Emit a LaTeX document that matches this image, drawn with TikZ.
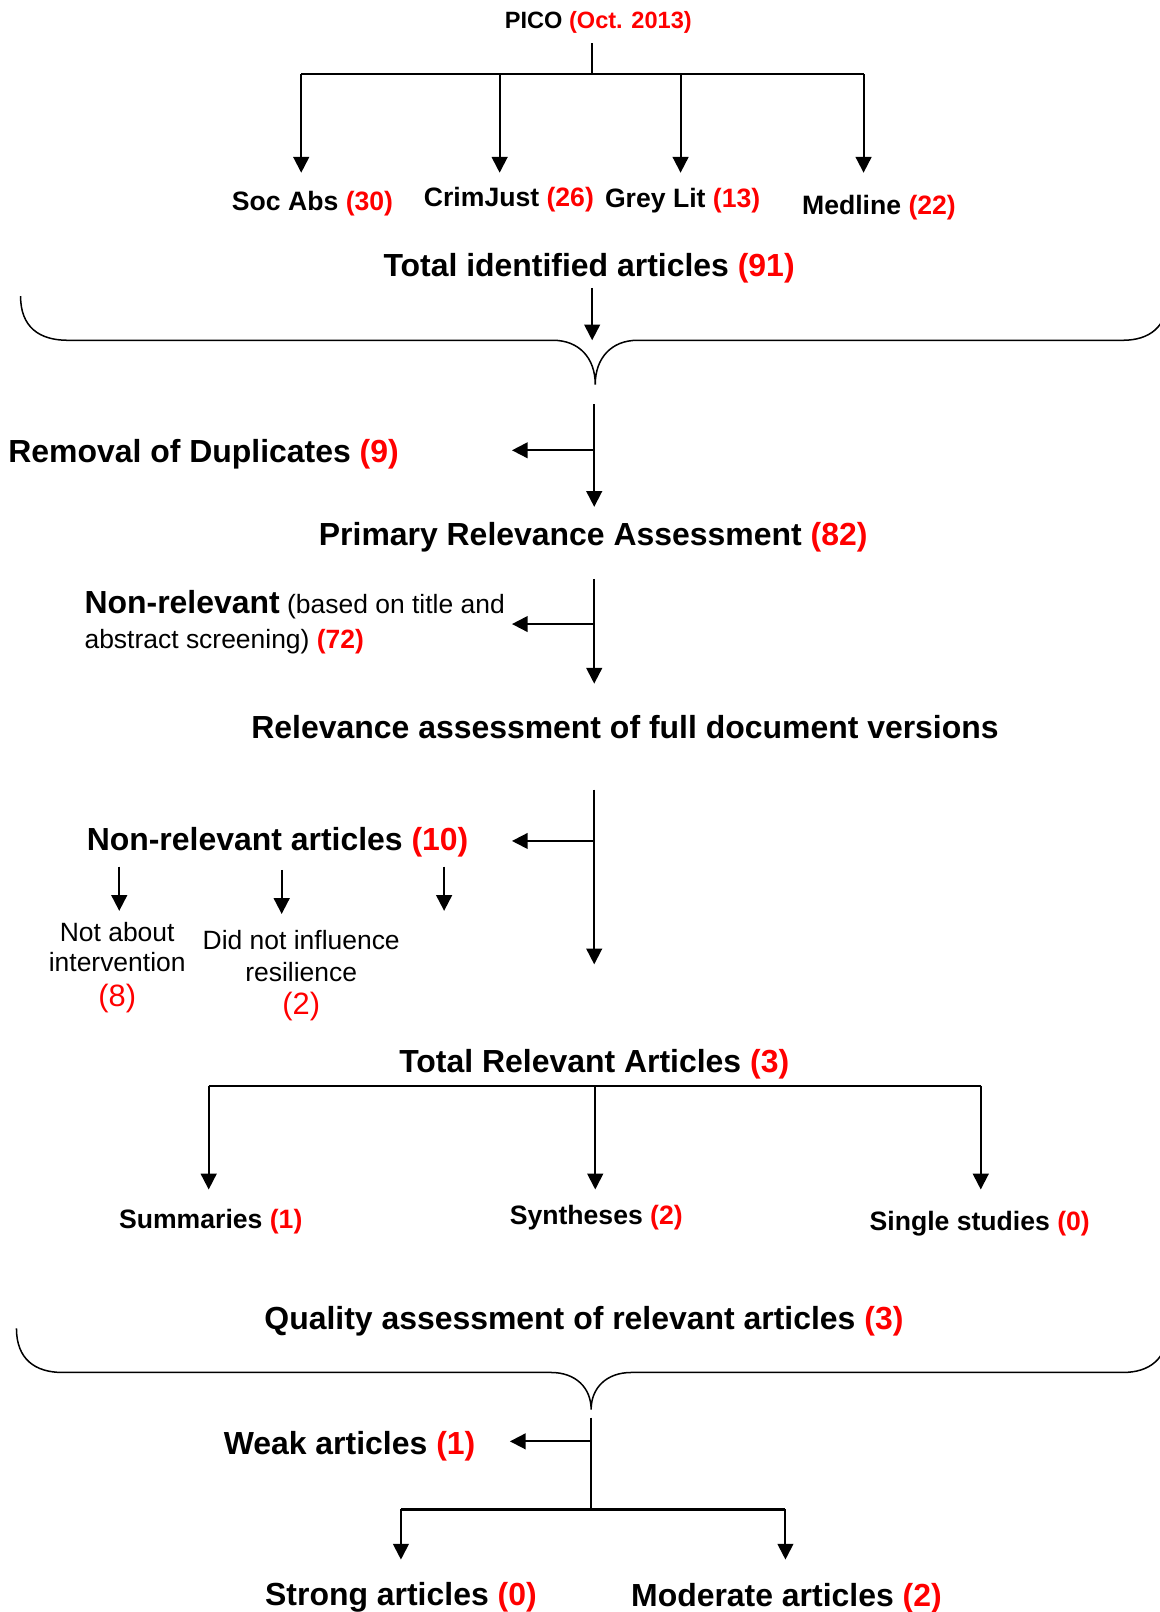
\documentclass[tikz,border=0pt]{standalone}
\usepackage{fontspec}
\setmainfont{Liberation Sans}
\usetikzlibrary{arrows.meta}
\newcommand{\redn}[1]{\textcolor{red}{#1}}
\begin{document}
\begin{tikzpicture}[x=0.75pt,y=-0.75pt,
  txt/.style={inner sep=0pt, yshift=-2.25pt},
  big/.style={txt, font=\fontsize{23.3}{28}\selectfont\bfseries},
  mid/.style={txt, font=\fontsize{19.4}{23}\selectfont\bfseries},
  picofont/.style={txt, font=\fontsize{17.2}{20}\selectfont\bfseries},
  small/.style={txt, font=\fontsize{19.3}{21.75}\selectfont, align=center},
  conn/.style={line width=1.4pt},
  arr/.style={line width=1.4pt, -{Triangle[length=11.5pt,width=11.5pt]}},
  brace/.style={line width=1.1pt},
]
\useasboundingbox (0,0) rectangle (1128,1568);

% ---- top: PICO and sources
\node[picofont] (pico) at (582,19) {PICO \redn{(Oct. 2013)}};
\coordinate (picoS) at (576,42);
\coordinate (hub1) at (576,72);
\coordinate (h1a) at (293,72);
\coordinate (h1b) at (486,72);
\coordinate (h1c) at (662,72);
\coordinate (h1d) at (840,72);
\coordinate (e1a) at (293,168);
\coordinate (e1b) at (486,168);
\coordinate (e1c) at (662,168);
\coordinate (e1d) at (840,168);
\draw[conn] (picoS) -- (hub1);
\draw[conn] (h1a) -- (h1d);
\draw[arr] (h1a) -- (e1a);
\draw[arr] (h1b) -- (e1b);
\draw[arr] (h1c) -- (e1c);
\draw[arr] (h1d) -- (e1d);

\node[mid] (socabs) at (304,195) {Soc Abs \redn{(30)}};
\node[mid] (crim) at (495,191) {CrimJust \redn{(26)}};
\node[mid] (grey) at (664,192) {Grey Lit \redn{(13)}};
\node[mid] (medline) at (855,199) {Medline \redn{(22)}};

\node[big] (total) at (573,258) {Total identified articles \redn{(91)}};
\coordinate (t1s) at (576,280);
\coordinate (t1e) at (576,331);
\draw[arr] (t1s) -- (t1e);

% brace 1
\coordinate (tip1) at (579,374);
\draw[brace] (20,288) .. controls (20,318) and (38,331) .. (66,331) -- (538,331)
  .. controls (563,331) and (579,348) .. (tip1)
  .. controls (579,348) and (595,331) .. (620,331) -- (1092,331)
  .. controls (1118,331) and (1136,318) .. (1136,288);

% ---- duplicates
\coordinate (v2s) at (578,393);
\coordinate (v2m) at (578,438);
\coordinate (v2e) at (578,493);
\coordinate (dupE) at (498,438);
\draw[arr] (v2s) -- (v2e);
\draw[arr] (v2m) -- (dupE);
\node[big] (dup) at (198,439) {Removal of Duplicates \redn{(9)}};

\node[big] (primary) at (577,520) {Primary Relevance Assessment \redn{(82)}};

\coordinate (v3s) at (578,563);
\coordinate (v3m) at (578,607);
\coordinate (v3e) at (578,665);
\coordinate (nr1E) at (498,607);
\draw[arr] (v3s) -- (v3e);
\draw[arr] (v3m) -- (nr1E);
\node[txt, anchor=west, align=left, font=\fontsize{19.3}{25.5}\selectfont] (nonrel1) at (82,602)
  {{\fontsize{23.3}{25.5}\selectfont\bfseries Non-relevant} (based on title and\\abstract screening) \textbf{\redn{(72)}}};

\node[big] (full) at (608,704) {Relevance assessment of full document versions};

\coordinate (v4s) at (578,768);
\coordinate (v4m) at (578,818);
\coordinate (v4e) at (578,938);
\coordinate (nr2E) at (498,818);
\draw[arr] (v4s) -- (v4e);
\draw[arr] (v4m) -- (nr2E);
\node[big] (nonrel2) at (270,816) {Non-relevant articles \redn{(10)}};

\coordinate (sa1) at (116,843);
\coordinate (sa1e) at (116,886);
\coordinate (sa2) at (274,846);
\coordinate (sa2e) at (274,889);
\coordinate (sa3) at (432,843);
\coordinate (sa3e) at (432,886);
\draw[arr] (sa1) -- (sa1e);
\draw[arr] (sa2) -- (sa2e);
\draw[arr] (sa3) -- (sa3e);

\node[small] (notabout) at (114,938) {Not about\\intervention\\[4pt]{\fontsize{22.5}{24}\selectfont\redn{(8)}}};
\node[small] (didnot) at (293,946) {Did not influence\\[1.5pt]resilience\\[2pt]{\fontsize{22.5}{24}\selectfont\redn{(2)}}};

% ---- total relevant
\node[big] (totrel) at (578,1032) {Total Relevant Articles \redn{(3)}};
\coordinate (h5a) at (203,1056);
\coordinate (h5b) at (579,1056);
\coordinate (h5c) at (954,1056);
\coordinate (e5a) at (203,1157);
\coordinate (e5b) at (579,1157);
\coordinate (e5c) at (954,1157);
\draw[conn] (h5a) -- (h5c);
\draw[arr] (h5a) -- (e5a);
\draw[arr] (h5b) -- (e5b);
\draw[arr] (h5c) -- (e5c);

\node[mid] (summ) at (205,1185) {Summaries \redn{(1)}};
\node[mid] (synth) at (580,1181) {Syntheses \redn{(2)}};
\node[mid] (single) at (953,1187) {Single studies \redn{(0)}};

\node[big] (quality) at (568,1282) {Quality assessment of relevant articles \redn{(3)}};

% brace 2
\coordinate (tip2) at (575,1371);
\draw[brace] (16,1292) .. controls (16,1322) and (34,1335) .. (61,1335) -- (536,1335)
  .. controls (560,1335) and (575,1350) .. (tip2)
  .. controls (575,1350) and (590,1335) .. (614,1335) -- (1092,1335)
  .. controls (1118,1335) and (1136,1322) .. (1136,1292);

\coordinate (v6s) at (575,1379);
\coordinate (v6m) at (575,1402);
\coordinate (v6e) at (575,1468);
\coordinate (weakE) at (496,1402);
\draw[conn] (v6s) -- (v6e);
\draw[arr] (v6m) -- (weakE);
\node[big] (weak) at (340,1404) {Weak articles \redn{(1)}};

\coordinate (h7a) at (390,1468);
\coordinate (h7b) at (764,1468);
\coordinate (e7a) at (390,1517);
\coordinate (e7b) at (764,1517);
\draw[line width=2pt] (h7a) -- (h7b);
\draw[arr] (h7a) -- (e7a);
\draw[arr] (h7b) -- (e7b);

\node[big] (strong) at (390,1551) {Strong articles \redn{(0)}};
\node[big] (moderate) at (765,1552) {Moderate articles \redn{(2)}};
\end{tikzpicture}
\end{document}
